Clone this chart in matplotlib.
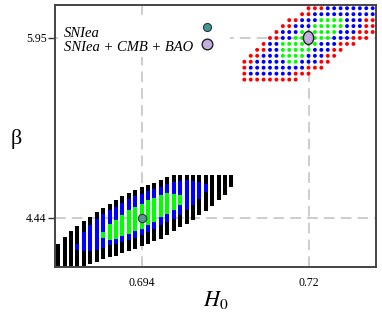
import numpy as np
import matplotlib
matplotlib.use('Agg')
import matplotlib.pyplot as plt
from matplotlib.patches import Ellipse, Rectangle

plt.rcParams['font.family'] = 'serif'
plt.rcParams['font.serif'] = ['Liberation Serif', 'DejaVu Serif']
plt.rcParams['mathtext.fontset'] = 'stix'

nan = np.nan

# SNIea alone: one column per H0 value, beta limits of each region
h0_cols = [0.681, 0.682, 0.683, 0.684, 0.685, 0.686, 0.687, 0.688, 0.689, 0.690,
           0.691, 0.692, 0.693, 0.694, 0.695, 0.696, 0.697, 0.698, 0.699, 0.700,
           0.701, 0.702, 0.703, 0.704, 0.705, 0.706, 0.707, 0.708]
black_lo = [4.00, 4.00, 4.00, 4.00, 4.03, 4.05, 4.07, 4.09, 4.105, 4.12,
            4.142, 4.159, 4.179, 4.198, 4.221, 4.243, 4.263, 4.29, 4.328, 4.361,
            4.389, 4.423, 4.46, 4.496, 4.538, 4.586, 4.632, 4.698]
black_hi = [4.22, 4.277, 4.328, 4.37, 4.412, 4.446, 4.488, 4.521, 4.552, 4.586,
            4.62, 4.648, 4.67, 4.698, 4.712, 4.732, 4.76, 4.783, 4.80, 4.80,
            4.80, 4.80, 4.80, 4.80, 4.80, 4.80, 4.80, 4.80]
blue_lo = [nan, nan, nan, 4.17, 4.159, 4.159, 4.165, 4.187, 4.207, 4.221,
           4.235, 4.255, 4.272, 4.291, 4.319, 4.347, 4.375, 4.403, 4.432, 4.46,
           4.502, 4.544, 4.60, 4.656, nan, nan, nan, nan]
blue_hi = [nan, nan, nan, 4.221, 4.319, 4.375, 4.432, 4.474, 4.502, 4.53,
           4.564, 4.592, 4.62, 4.642, 4.665, 4.684, 4.698, 4.721, 4.74, 4.749,
           4.754, 4.749, 4.74, 4.726, nan, nan, nan, nan]
green_lo = [nan, nan, nan, nan, nan, nan, nan, 4.272, 4.255, 4.263,
            4.283, 4.305, 4.328, 4.347, 4.375, 4.403, 4.446, 4.474, 4.507, 4.544,
            nan, nan, nan, nan, nan, nan, nan, nan]
green_hi = [nan, nan, nan, nan, nan, nan, nan, 4.319, 4.389, 4.418,
            4.46, 4.502, 4.53, 4.558, 4.586, 4.608, 4.628, 4.648, 4.642, 4.628,
            nan, nan, nan, nan, nan, nan, nan, nan]

# SNIea + CMB + BAO: grid rows in beta, H0 limits of each region per row
h0_grid = [0.710, 0.711, 0.712, 0.713, 0.714, 0.715, 0.716, 0.717, 0.718, 0.719, 0.720,
           0.721, 0.722, 0.723, 0.724, 0.725, 0.726, 0.727, 0.728, 0.729, 0.730]
beta_rows = [6.20, 6.15, 6.10, 6.05, 6.00, 5.95, 5.90, 5.85, 5.80, 5.75, 5.70, 5.65, 5.60]
red_from = [0.720, 0.719, 0.717, 0.716, 0.715, 0.714, 0.713, 0.712, 0.711, 0.710, 0.710, 0.710, 0.710]
red_to = [0.730, 0.730, 0.730, 0.730, 0.730, 0.729, 0.727, 0.725, 0.724, 0.723, 0.722, 0.720, 0.718]
blue_from = [0.723, 0.721, 0.719, 0.718, 0.716, 0.716, 0.714, 0.714, 0.713, 0.712, 0.711, 0.711, nan]
blue_to = [0.730, 0.730, 0.728, 0.728, 0.727, 0.726, 0.724, 0.723, 0.722, 0.721, 0.719, 0.717, nan]
green_from = [nan, nan, 0.722, 0.721, 0.719, 0.718, 0.716, 0.716, 0.716, 0.717, nan, nan, nan]
green_to = [nan, nan, 0.725, 0.725, 0.724, 0.723, 0.721, 0.720, 0.719, 0.718, nan, nan, nan]

best_sn = (0.694, 4.44)
best_all = (0.72, 5.95)
labels = ['SNIea', 'SNIea + CMB + BAO']

fig = plt.figure(figsize=(3.82, 3.27), dpi=100)
ax = fig.add_axes([0.144, 0.183, 0.840, 0.802])

h = np.array(h0_cols)
for lo, hi, col in [(black_lo, black_hi, 'black'), (blue_lo, blue_hi, '#0000ff'),
                    (green_lo, green_hi, '#00ff00')]:
    lo = np.array(lo)
    hi = np.array(hi)
    ok = ~np.isnan(lo)
    ax.vlines(h[ok], lo[ok], hi[ok], colors=col, linewidth=2.9, capstyle='butt', zorder=2)

xs, ys, cs = [], [], []
for i, b in enumerate(beta_rows):
    for x in h0_grid:
        if not (red_from[i] - 1e-6 <= x <= red_to[i] + 1e-6):
            continue
        c = '#ff0000'
        if blue_from[i] - 1e-6 <= x <= blue_to[i] + 1e-6:
            c = '#0000ff'
        if green_from[i] - 1e-6 <= x <= green_to[i] + 1e-6:
            c = '#00ff00'
        xs.append(x)
        ys.append(b)
        cs.append(c)
ax.scatter(xs, ys, c=cs, s=8, linewidths=0, zorder=2)

ax.plot(*best_sn, 'o', ms=6, mfc='#5a9696', mec='#333333', mew=0.8, zorder=4)
ax.add_patch(Ellipse(best_all, 0.0016, 0.11, fc='#c3aee0', ec='#222222', lw=1.0, zorder=4))

ax.set_xlim(0.6805, 0.7305)
ax.set_ylim(4.023, 6.228)
ax.set_xticks([0.694, 0.72])
ax.set_xticklabels(['0.694', '0.72'])
ax.set_yticks([4.44, 5.95])
ax.set_yticklabels(['4.44', '5.95'])
ax.tick_params(axis='x', length=0, pad=7, labelsize=8.5)
ax.tick_params(axis='y', length=5, width=1, pad=1, labelsize=8.5, color='#333333')
ax.grid(True, linestyle=(0, (7, 4)), color='#c0c0c0', linewidth=1.1)
ax.set_axisbelow(True)
for s in ax.spines.values():
    s.set_linewidth(1.4)
    s.set_color('#444444')

ax.set_xlabel('$H_0$', fontsize=16)
ax.xaxis.set_label_coords(0.5, -0.085)
ax.set_ylabel('β', fontsize=16, rotation=0, va='center')
ax.yaxis.set_label_coords(-0.12, 0.49)

# legend: white box, text on the left, markers on the right
ax.add_patch(Rectangle((0.009, 0.802), 0.536, 0.141, transform=ax.transAxes,
                       fc='white', ec='none', zorder=3))
ax.text(0.028, 0.878, labels[0], transform=ax.transAxes, fontsize=10.5,
        style='italic', va='baseline', zorder=5)
ax.text(0.028, 0.8225, labels[1], transform=ax.transAxes, fontsize=10.5,
        style='italic', va='baseline', zorder=5)
ax.plot([0.4735], [0.916], 'o', ms=5.8, mfc='#3a9999', mec='#333333', mew=0.8,
        transform=ax.transAxes, zorder=5)
ax.plot([0.4735], [0.851], 'o', ms=7.7, mfc='#c3aee0', mec='#222222', mew=1.0,
        transform=ax.transAxes, zorder=5)

fig.savefig('out.png', dpi=100)
